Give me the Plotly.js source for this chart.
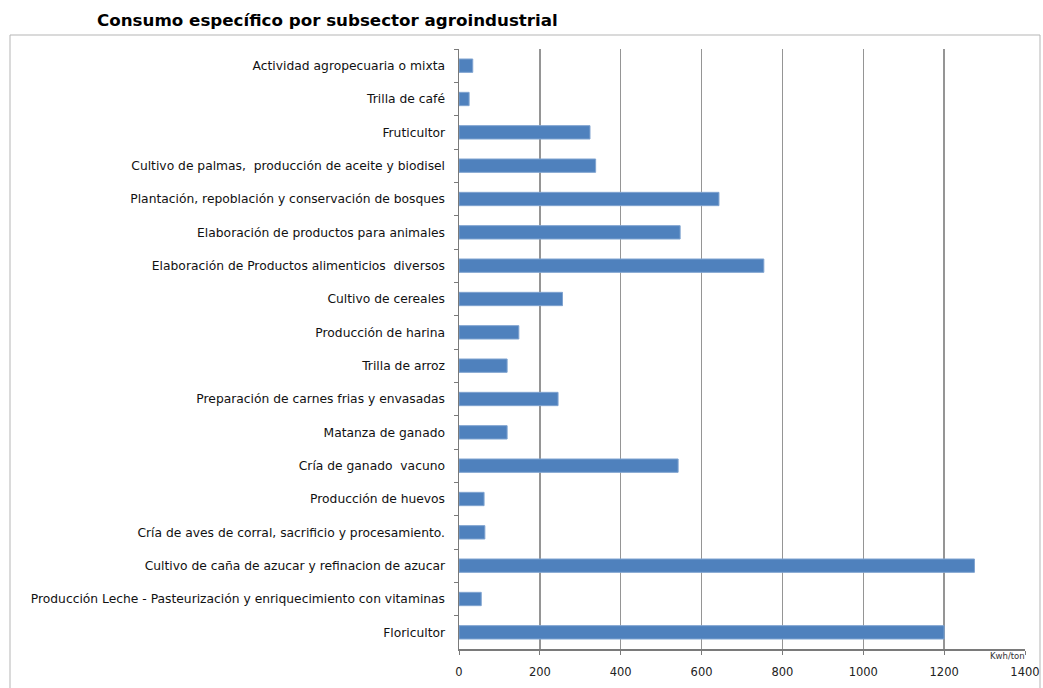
<!DOCTYPE html>
<html><head><meta charset="utf-8">
<script src="https://cdn.plot.ly/plotly-3.0.1.min.js"></script>
<style>html,body{margin:0;padding:0;background:#fff}#c{width:1043px;height:688px}</style>
</head><body><div id="c"></div>
<script>
const categories = [
  "Actividad agropecuaria o mixta",
  "Trilla de café",
  "Fruticultor",
  "Cultivo de palmas,  producción de aceite y biodisel",
  "Plantación, repoblación y conservación de bosques",
  "Elaboración de productos para animales",
  "Elaboración de Productos alimenticios  diversos",
  "Cultivo de cereales",
  "Producción de harina",
  "Trilla de arroz",
  "Preparación de carnes frias y envasadas",
  "Matanza de ganado",
  "Cría de ganado  vacuno",
  "Producción de huevos",
  "Cría de aves de corral, sacrificio y procesamiento.",
  "Cultivo de caña de azucar y refinacion de azucar",
  "Producción Leche - Pasteurización y enriquecimiento con vitaminas",
  "Floricultor"
];
const values = [34, 25, 324, 338, 643, 547, 754, 256, 148, 119, 245, 119, 542, 62, 64, 1275, 55, 1200];
const xTicks = [0, 200, 400, 600, 800, 1000, 1200, 1400];
const unitLabel = "Kwh/ton";
const titleText = "Consumo específico por subsector agroindustrial";

const trace = {
  type: 'bar', orientation: 'h',
  x: values, y: categories,
  width: 0.4,
  marker: {color: '#4F81BD', line: {color: '#7FA3D0', width: 1}},
  hoverinfo: 'x+y'
};
const L = 459, R = 1025, T = 49, B = 649, W = 1043, H = 688;
const pw = R - L, ph = B - T;
const layout = {
  width: W, height: H,
  margin: {l: L, r: W - R, t: T, b: H - B, pad: 0},
  paper_bgcolor: '#fff', plot_bgcolor: '#fff',
  showlegend: false,
  bargap: 0.6,
  title: {text: titleText, font: {family: 'DejaVu Sans, sans-serif', size: 16.7, color: '#000', weight: 'bold'},
          xref: 'container', yref: 'container', x: 97/W, xanchor: 'left', y: 1 - 20/H, yanchor: 'middle'},
  xaxis: {range: [0, 1400], tickvals: xTicks, ticktext: xTicks.map(String),
          showgrid: true, gridcolor: '#959595', gridwidth: 1.3,
          showline: true, linecolor: '#7a7a7a', linewidth: 1.5,
          ticks: 'outside', ticklen: 4, tickcolor: '#7a7a7a',
          ticklabelstandoff: 8, zeroline: false,
          tickfont: {family: 'DejaVu Sans, sans-serif', size: 11.5, color: '#222'}, fixedrange: true},
  yaxis: {type: 'category', autorange: 'reversed', showgrid: false,
          showline: true, linecolor: '#7a7a7a', linewidth: 1.5,
          ticks: 'outside', ticklen: 4, tickcolor: '#7a7a7a', tickson: 'boundaries',
          ticklabelstandoff: 10,
          tickfont: {family: 'DejaVu Sans, sans-serif', size: 12.3, color: '#111'}, fixedrange: true},
  shapes: [{type: 'rect', xref: 'paper', yref: 'paper',
            x0: (10 - L)/pw, x1: (1040 - L)/pw, y0: (B - 700)/ph, y1: (B - 35)/ph,
            line: {color: '#b5b5b5', width: 1}, fillcolor: 'rgba(0,0,0,0)', layer: 'below'}],
  annotations: [{text: unitLabel, xref: 'paper', yref: 'paper', x: (1007 - L)/pw, y: (B - 656)/ph,
                 xanchor: 'center', yanchor: 'middle', showarrow: false,
                 font: {family: 'DejaVu Sans, sans-serif', size: 8.5, color: '#333'}}]
};
Plotly.newPlot('c', [trace], layout, {displayModeBar: false, staticPlot: true});
</script></body></html>
